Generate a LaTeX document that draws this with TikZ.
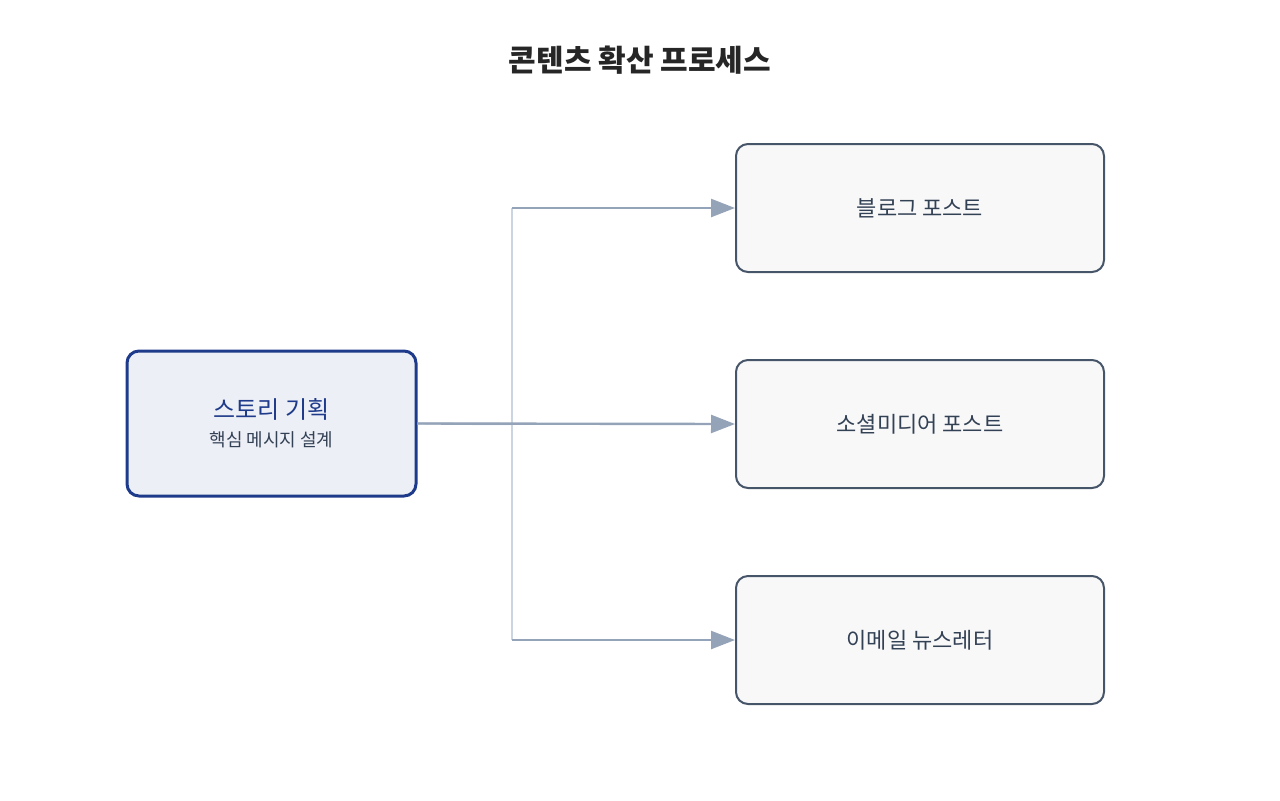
\documentclass[tikz,border=0pt]{standalone}
\usepackage{fontspec}
\setmainfont{Noto Sans CJK KR}
\usetikzlibrary{positioning,arrows.meta,calc}
\definecolor{navy}{HTML}{1E3A8A}
\definecolor{slate}{HTML}{475569}
\definecolor{txt}{HTML}{334155}
\definecolor{edge}{HTML}{94A3B8}
\definecolor{trunk}{HTML}{CBD5E1}
\tikzset{
  src/.style={draw=navy, line width=1.5pt, fill=navy!8!white, rounded corners=6pt,
    minimum width=144.5pt, minimum height=72.5pt, align=center},
  dst/.style={draw=slate, line width=1pt, fill=slate!4!white, rounded corners=6pt,
    minimum width=184pt, minimum height=64pt, font=\fontsize{11}{13}\selectfont, text=txt},
  arr/.style={draw=edge, line width=1.2pt, -{Triangle[length=12pt,width=9pt]}}
}
\begin{document}
\begin{tikzpicture}[x=0.5pt,y=-0.5pt]
\useasboundingbox (0,0) rectangle (1280,800);
% title
\node (title) at (640,60) {\fontsize{15}{18}\selectfont\bfseries\color{black!85} 콘텐츠 확산 프로세스};
% source
\node[src] (story) at (271.5,423.5) {{\fontsize{12}{15}\selectfont\color{navy} 스토리 기획}\\[2pt]{\fontsize{9}{11}\selectfont\color{txt} 핵심 메시지 설계}};
% targets
\node[dst] (blog) at (920,208) {블로그 포스트};
\node[dst] (social) at (920,424) {소셜미디어 포스트};
\node[dst] (mail) at (920,640) {이메일 뉴스레터};
% connectors
\coordinate (top) at (512,208);
\coordinate (bot) at (512,640);
\draw[trunk, line width=1.2pt] (top) -- (bot);
\draw[trunk, line width=1.2pt] (story.east) -- (512,424);
\draw[arr] (top) -- (blog.west);
\draw[arr] (story.east) -- (social.west);
\draw[arr] (bot) -- (mail.west);
\end{tikzpicture}
\end{document}
